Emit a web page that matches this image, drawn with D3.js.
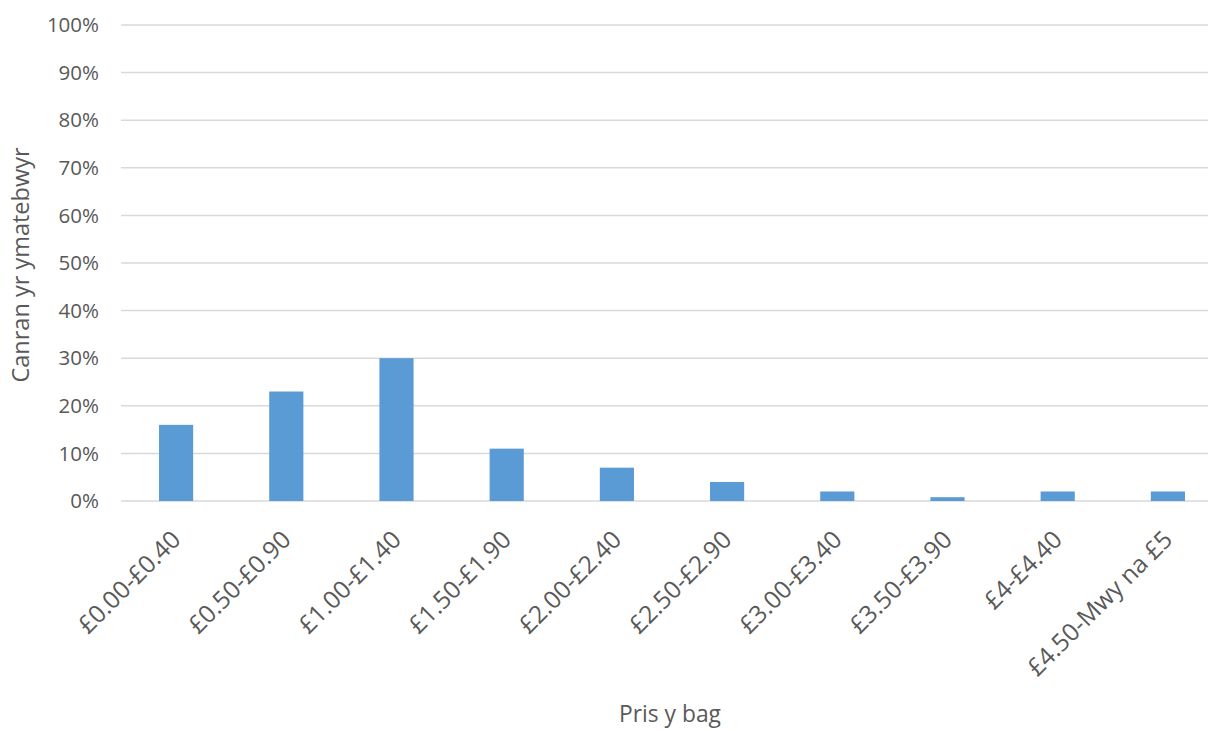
<!DOCTYPE html>
<html>
<head>
<meta charset="utf-8" />
<title>Pris y bag</title>
<script src="https://cdn.jsdelivr.net/npm/d3@7"></script>
<style>
body { margin: 0; background: #fff; }
text { font-family: 'Open Sans', sans-serif; fill: #595959; }
</style>
</head>
<body>
<svg id="chart" width="1208" height="731"></svg>
<script>
// categories and values (percent of respondents)
var categories = ["£0.00-£0.40", "£0.50-£0.90", "£1.00-£1.40", "£1.50-£1.90", "£2.00-£2.40",
                  "£2.50-£2.90", "£3.00-£3.40", "£3.50-£3.90", "£4-£4.40", "£4.50-Mwy na £5"];
var values     = [16, 23, 30, 11, 7, 4, 2, 0.8, 2, 2];
var yTicks     = [0, 10, 20, 30, 40, 50, 60, 70, 80, 90, 100];

var m = {left: 121, top: 25, bottom: 501, right: 1223};

var svg = d3.select("#chart");

var x = d3.scaleBand().domain(categories).range([m.left, m.right]).paddingInner(0.69).paddingOuter(0.345);
var y = d3.scaleLinear().domain([0, 100]).range([m.bottom, m.top]);

// gridlines
svg.append("g").selectAll("line").data(yTicks).enter().append("line")
  .attr("x1", m.left).attr("x2", 1208)
  .attr("y1", function(d) { return y(d); })
  .attr("y2", function(d) { return y(d); })
  .attr("stroke", "#d9d9d9")
  .attr("stroke-width", 1.5);

// y labels
svg.append("g").selectAll("text").data(yTicks).enter().append("text")
  .attr("x", 99)
  .attr("y", function(d) { return y(d); })
  .attr("dy", "0.35em")
  .attr("text-anchor", "end")
  .attr("font-size", 20.5)
  .text(function(d) { return d + "%"; });

// bars
svg.append("g").selectAll("rect").data(values).enter().append("rect")
  .attr("x", function(d, i) { return x(categories[i]); })
  .attr("width", x.bandwidth())
  .attr("y", function(d) { return y(d); })
  .attr("height", function(d) { return y(0) - y(d); })
  .attr("fill", "#5b9bd5");

// x labels
svg.append("g").selectAll("text").data(categories).enter().append("text")
  .attr("transform", function(d) {
    return "translate(" + (x(d) + x.bandwidth() / 2) + ",535) rotate(-45)";
  })
  .attr("dy", "0.35em")
  .attr("text-anchor", "end")
  .attr("font-size", 24.5)
  .text(function(d) { return d; });

// axis titles
svg.append("text")
  .attr("x", 670).attr("y", 722)
  .attr("text-anchor", "middle")
  .attr("font-size", 22.8)
  .text("Pris y bag");

svg.append("text")
  .attr("transform", "translate(28.5,265) rotate(-90)")
  .attr("text-anchor", "middle")
  .attr("font-size", 23.5)
  .text("Canran yr ymatebwyr");
</script>
</body>
</html>
